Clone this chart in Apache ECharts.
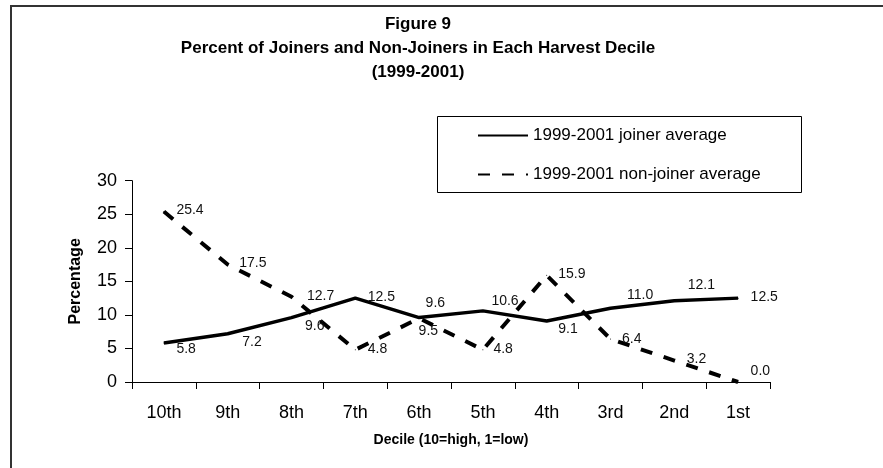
<!DOCTYPE html>
<html>
<head>
<meta charset="utf-8">
<script src="https://cdn.jsdelivr.net/npm/echarts@6/dist/echarts.min.js"></script>
<style>
html,body{margin:0;padding:0;background:#fff;}
#chart{width:883px;height:468px;}
</style>
</head>
<body>
<div id="chart"></div>
<script>
const categories = ['10th','9th','8th','7th','6th','5th','4th','3rd','2nd','1st'];
const joinerValues = [5.8, 7.2, 9.6, 12.5, 9.6, 10.6, 9.1, 11.0, 12.1, 12.5];
const nonJoinerValues = [25.4, 17.5, 12.7, 4.8, 9.5, 4.8, 15.9, 6.4, 3.2, 0.0];
const yTicks = [0, 5, 10, 15, 20, 25, 30];
const joinerName = '1999-2001 joiner average';
const nonJoinerName = '1999-2001 non-joiner average';

// label placement tweaks (style only)
const joinerLabelOffset = [[0,6],[2,8],[1,9],[0,-1],[-6,-14],[-4,-10],[-1,8],[4,-13],[1,-16],[0,-1]];
const nonJoinerLabelOffset = [[0,-1],[-1,-1],[3,-1],[0,-1],[-13,13],[-2,-1],[-1,-1],[-1,0],[0,-1],[0,-11]];

const FONT = '"Liberation Sans", Arial, sans-serif';

function buildData(values, offsets) {
  return values.map((v, i) => ({
    value: v,
    label: { offset: offsets[i] }
  }));
}

const chart = echarts.init(document.getElementById('chart'));
chart.setOption({
  backgroundColor: '#fff',
  animation: false,
  title: {
    text: 'Figure 9\nPercent of Joiners and Non-Joiners in Each Harvest Decile\n(1999-2001)',
    left: 413,
    top: 7,
    textAlign: 'center',
    textStyle: { fontFamily: FONT, fontSize: 17, fontWeight: 'bold', color: '#000', lineHeight: 24 }
  },
  graphic: [
    { type: 'rect', shape: { x: 11, y: 6, width: 1000, height: 1000 }, style: { fill: 'none', stroke: '#333', lineWidth: 2 }, silent: true },
    { type: 'rect', shape: { x: 437.5, y: 116.5, width: 364, height: 76 }, style: { fill: 'none', stroke: '#000', lineWidth: 1 }, silent: true }
  ],
  legend: {
    orient: 'vertical',
    left: 477,
    top: 127,
    itemWidth: 50,
    itemHeight: 16,
    itemGap: 22,
    padding: 0,
    itemStyle: { opacity: 0 },
    textStyle: { fontFamily: FONT, fontSize: 17, color: '#000' },
    data: [joinerName, nonJoinerName]
  },
  grid: { left: 132, right: 113, top: 180.7, bottom: 86, containLabel: false },
  xAxis: {
    type: 'category',
    data: categories,
    boundaryGap: true,
    name: 'Decile (10=high, 1=low)',
    nameLocation: 'middle',
    nameGap: 51,
    nameTextStyle: { fontFamily: FONT, fontSize: 14, fontWeight: 'bold', color: '#000' },
    axisLine: { lineStyle: { color: '#000', width: 1 } },
    axisTick: { show: true, length: 7, lineStyle: { color: '#000' } },
    axisLabel: { fontFamily: FONT, fontSize: 18, color: '#000', margin: 22 },
    splitLine: { show: false }
  },
  yAxis: {
    type: 'value',
    min: yTicks[0],
    max: yTicks[yTicks.length - 1],
    interval: yTicks[1] - yTicks[0],
    name: 'Percentage',
    nameLocation: 'middle',
    nameGap: 48,
    nameRotate: 90,
    nameTextStyle: { fontFamily: FONT, fontSize: 16, fontWeight: 'bold', color: '#000' },
    axisLine: { show: true, lineStyle: { color: '#000', width: 1 } },
    axisTick: { show: true, length: 7, lineStyle: { color: '#000' } },
    axisLabel: { fontFamily: FONT, fontSize: 18, color: '#000', margin: 15 },
    splitLine: { show: false }
  },
  series: [
    {
      name: joinerName,
      type: 'line',
      data: buildData(joinerValues, joinerLabelOffset),
      symbol: 'circle',
      symbolSize: 1,
      showSymbol: true,
      itemStyle: { color: '#000' },
      lineStyle: { color: '#000', width: 3.5, type: 'solid' },
      label: { show: true, position: 'right', distance: 12, fontFamily: FONT, fontSize: 14, color: '#111', formatter: p => p.value.toFixed(1) },
      z: 3
    },
    {
      name: nonJoinerName,
      type: 'line',
      data: buildData(nonJoinerValues, nonJoinerLabelOffset),
      symbol: 'circle',
      symbolSize: 1,
      showSymbol: true,
      itemStyle: { color: '#000' },
      lineStyle: { color: '#000', width: 4, type: [12, 12], cap: 'butt' },
      label: { show: true, position: 'right', distance: 12, fontFamily: FONT, fontSize: 14, color: '#111', formatter: p => p.value.toFixed(1) },
      z: 2
    }
  ]
});
</script>
</body>
</html>
